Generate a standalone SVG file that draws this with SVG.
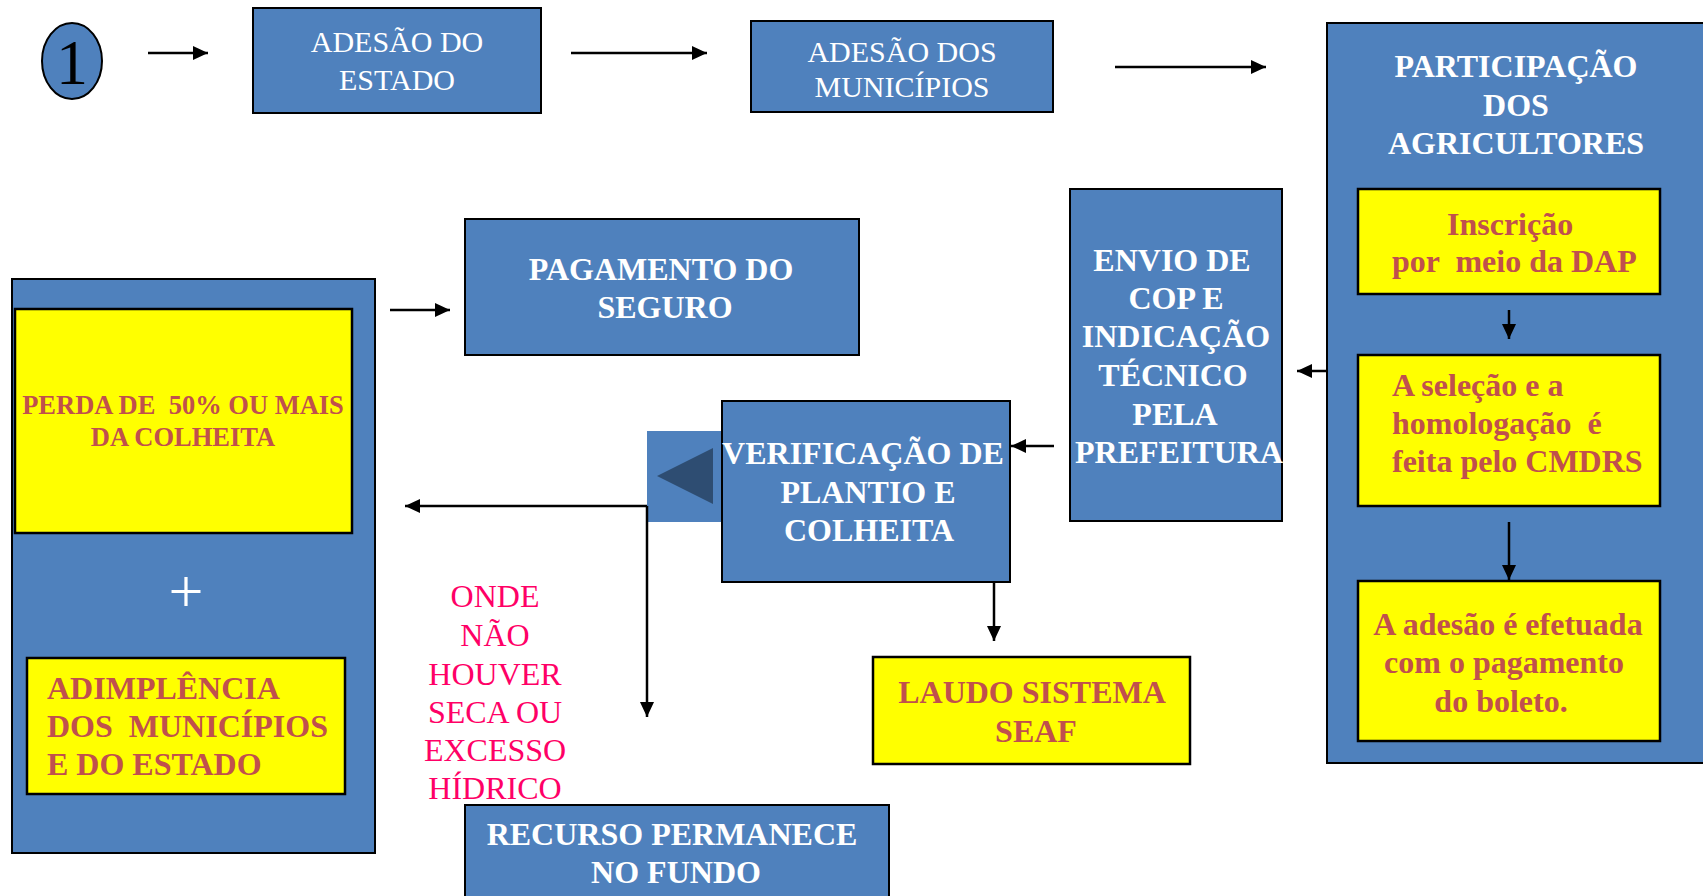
<svg xmlns="http://www.w3.org/2000/svg" width="1703" height="896" viewBox="0 0 1703 896">
<style>
  text { font-family: "Liberation Serif", "Times New Roman", serif; }
  .blue { fill: #4F81BD; stroke: #000; stroke-width: 2; }
  .yel { fill: #FFFF00; stroke: #000; stroke-width: 2.5; }
  .wn { fill: #fff; font-size: 30px; }
  .wb { fill: #fff; font-size: 32px; font-weight: bold; }
  .rb { fill: #C0504D; font-size: 32px; font-weight: bold; }
  .rs { fill: #C0504D; font-size: 26.5px; font-weight: bold; }
  .pk { fill: #FF0066; font-size: 32px; }
  .mid { text-anchor: middle; }
  .ln { fill: none; stroke: #000; stroke-width: 2.5; }
</style>
<defs>
  <marker id="ah" markerUnits="userSpaceOnUse" markerWidth="16" markerHeight="14" refX="15" refY="7" orient="auto">
    <path d="M0,0 L15,7 L0,14 z" fill="#000"/>
  </marker>
</defs>
<rect width="1703" height="896" fill="#fff"/>

<g id="start">
  <ellipse cx="72" cy="61" rx="30" ry="38" fill="#4F81BD" stroke="#000" stroke-width="2"/>
  <text x="72" y="84" class="mid" font-size="64" fill="#000">1</text>
</g>

<g id="adesao-estado">
  <rect class="blue" x="253" y="8" width="288" height="105"/>
  <text class="wn mid" x="397" y="52">ADESÃO DO</text>
  <text class="wn mid" x="397" y="90">ESTADO</text>
</g>

<g id="adesao-municipios">
  <rect class="blue" x="751" y="21" width="302" height="91"/>
  <text class="wn mid" x="902" y="62">ADESÃO DOS</text>
  <text class="wn mid" x="902" y="97">MUNICÍPIOS</text>
</g>

<g id="participacao">
  <rect class="blue" x="1327" y="23" width="400" height="740"/>
  <text class="wb mid" x="1516" y="77">PARTICIPAÇÃO</text>
  <text class="wb mid" x="1516" y="116">DOS</text>
  <text class="wb mid" x="1516" y="154">AGRICULTORES</text>
</g>

<g id="inscricao">
  <rect class="yel" x="1358" y="189" width="302" height="105"/>
  <text class="rb" x="1447" y="235">Inscrição</text>
  <text class="rb" x="1392" y="272" xml:space="preserve">por  meio da DAP</text>
</g>

<g id="selecao">
  <rect class="yel" x="1358" y="355" width="302" height="151"/>
  <text class="rb" x="1392" y="396">A seleção e a</text>
  <text class="rb" x="1392" y="434" xml:space="preserve">homologação  é</text>
  <text class="rb" x="1392" y="472">feita pelo CMDRS</text>
</g>

<g id="adesao-boleto">
  <rect class="yel" x="1358" y="581" width="302" height="160"/>
  <text class="rb mid" x="1508" y="635">A adesão é efetuada</text>
  <text class="rb mid" x="1504" y="673">com o pagamento</text>
  <text class="rb mid" x="1501" y="712">do boleto.</text>
</g>

<g id="envio">
  <rect class="blue" x="1070" y="189" width="212" height="332"/>
  <text class="wb mid" x="1172" y="271">ENVIO DE</text>
  <text class="wb mid" x="1176" y="309">COP E</text>
  <text class="wb mid" x="1176" y="347">INDICAÇÃO</text>
  <text class="wb mid" x="1173" y="386">TÉCNICO</text>
  <text class="wb mid" x="1175" y="425">PELA</text>
  <text class="wb mid" x="1179" y="463">PREFEITURA</text>
</g>

<g id="verificacao">
  <rect x="647" y="431" width="75" height="91" fill="#4F81BD"/>
  <polygon points="657,476 713,448 713,504" fill="#2E4D72"/>
  <rect class="blue" x="722" y="401" width="288" height="181"/>
  <text class="wb mid" x="863" y="464">VERIFICAÇÃO DE</text>
  <text class="wb mid" x="868" y="503">PLANTIO E</text>
  <text class="wb mid" x="869" y="541">COLHEITA</text>
</g>

<g id="laudo">
  <rect class="yel" x="873" y="657" width="317" height="107"/>
  <text class="rb mid" x="1032" y="703">LAUDO SISTEMA</text>
  <text class="rb mid" x="1036" y="742">SEAF</text>
</g>

<g id="pagamento">
  <rect class="blue" x="465" y="219" width="394" height="136"/>
  <text class="wb mid" x="661" y="280">PAGAMENTO DO</text>
  <text class="wb mid" x="665" y="318">SEGURO</text>
</g>

<g id="condicoes">
  <rect class="blue" x="12" y="279" width="363" height="574"/>
  <rect class="yel" x="15" y="309" width="337" height="224"/>
  <text class="rs mid" x="183" y="414" xml:space="preserve">PERDA DE  50% OU MAIS</text>
  <text class="rs mid" x="183" y="446">DA COLHEITA</text>
  <text x="186" y="612" class="mid" font-size="62" fill="#fff">+</text>
  <rect class="yel" x="27" y="658" width="318" height="136"/>
  <text class="rb" x="47" y="699">ADIMPLÊNCIA</text>
  <text class="rb" x="47" y="737" xml:space="preserve">DOS  MUNICÍPIOS</text>
  <text class="rb" x="47" y="775">E DO ESTADO</text>
</g>

<g id="onde-nao-houver">
  <text class="pk mid" x="495" y="607">ONDE</text>
  <text class="pk mid" x="495" y="646">NÃO</text>
  <text class="pk mid" x="495" y="685">HOUVER</text>
  <text class="pk mid" x="495" y="723">SECA OU</text>
  <text class="pk mid" x="495" y="761">EXCESSO</text>
  <text class="pk mid" x="495" y="799">HÍDRICO</text>
</g>

<g id="recurso">
  <rect class="blue" x="465" y="805" width="424" height="100"/>
  <text class="wb mid" x="672" y="845">RECURSO PERMANECE</text>
  <text class="wb mid" x="676" y="883">NO FUNDO</text>
</g>

<g id="connectors">
  <line class="ln" x1="148" y1="53" x2="208" y2="53" marker-end="url(#ah)"/>
  <line class="ln" x1="571" y1="53" x2="707" y2="53" marker-end="url(#ah)"/>
  <line class="ln" x1="1115" y1="67" x2="1266" y2="67" marker-end="url(#ah)"/>
  <line class="ln" x1="1327" y1="371" x2="1297" y2="371" marker-end="url(#ah)"/>
  <line class="ln" x1="1509" y1="310" x2="1509" y2="339" marker-end="url(#ah)"/>
  <line class="ln" x1="1509" y1="522" x2="1509" y2="580" marker-end="url(#ah)"/>
  <line class="ln" x1="1054" y1="446" x2="1011" y2="446" marker-end="url(#ah)"/>
  <line class="ln" x1="994" y1="582" x2="994" y2="641" marker-end="url(#ah)"/>
  <line class="ln" x1="647" y1="506" x2="405" y2="506" marker-end="url(#ah)"/>
  <line class="ln" x1="647" y1="506" x2="647" y2="717" marker-end="url(#ah)"/>
  <line class="ln" x1="390" y1="310" x2="450" y2="310" marker-end="url(#ah)"/>
</g>
</svg>
